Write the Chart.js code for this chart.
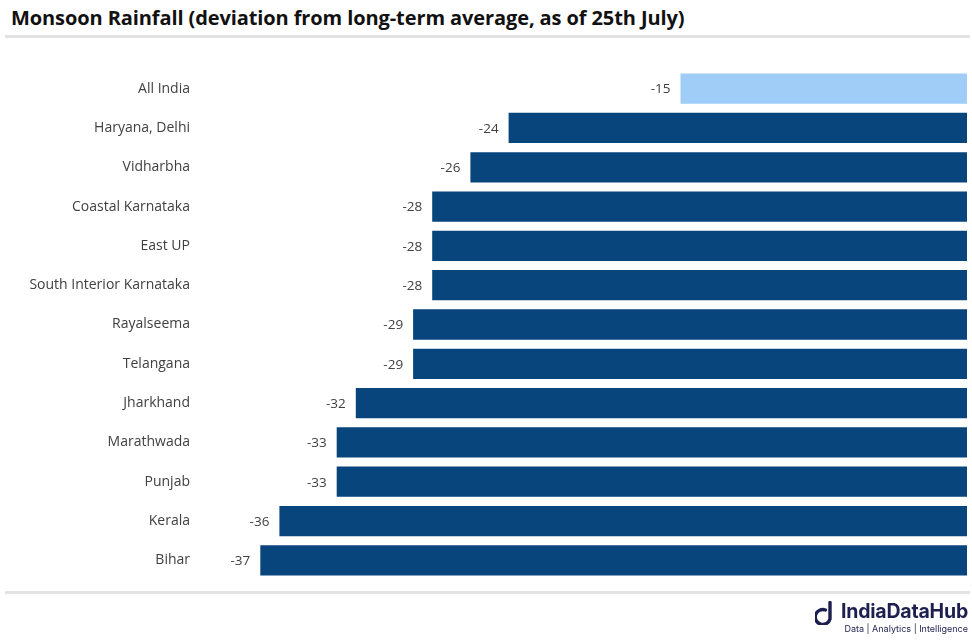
<!DOCTYPE html>
<html>
<head>
<meta charset="utf-8">
<script src="https://cdn.jsdelivr.net/npm/chart.js@4"></script>
<style>
  html, body { margin: 0; padding: 0; background: #fff; }
  body { width: 972px; height: 643px; position: relative; overflow: hidden; font-family: "Open Sans", sans-serif; }
  .title { position: absolute; left: 11px; top: 4px; font-size: 20px; font-weight: 700; color: #111; letter-spacing: -0.1px; }
  .rule { position: absolute; left: 5px; width: 965px; height: 3px; background: #e3e3e3; }
  .wrap { position: absolute; left: 0; top: 0; width: 972px; height: 643px; }
  .logo { position: absolute; right: 4px; top: 600px; text-align: right; color: #1d1f4e; }
  .logo .name { font-family: "Inter", sans-serif; font-weight: 700; font-size: 19.5px; letter-spacing: -0.2px; line-height: 22px; }
  .logo .tag { font-family: "Inter", sans-serif; font-size: 9px; margin-top: 1px; }
  .logo svg { position: absolute; left: -26px; top: 1px; }
</style>
</head>
<body>
<div class="title">Monsoon Rainfall (deviation from long-term average, as of 25th July)</div>
<div class="rule" style="top:35px"></div>
<div class="rule" style="top:591px"></div>
<div class="wrap"><canvas id="chart"></canvas></div>
<div class="logo">
  <svg width="22" height="24" viewBox="0 0 22 24"><path d="M15 1.5 L15 18 A7.5 7.5 0 1 1 10.5 9" fill="none" stroke="#1d1f4e" stroke-width="3.4" stroke-linecap="round"/></svg>
  <div class="name">IndiaDataHub</div>
  <div class="tag">Data | Analytics | Intelligence</div>
</div>
<script>
const regions = ["All India", "Haryana, Delhi", "Vidharbha", "Coastal Karnataka", "East UP",
  "South Interior Karnataka", "Rayalseema", "Telangana", "Jharkhand", "Marathwada",
  "Punjab", "Kerala", "Bihar"];
const deviation = [-15, -24, -26, -28, -28, -28, -29, -29, -32, -33, -33, -36, -37];
const barColors = deviation.map((v, i) => i === 0 ? "#9fcdf8" : "#08457c");

// draw value text just left of each bar end
const valueLabels = {
  id: "valueLabels",
  afterDatasetsDraw(chart) {
    const ctx = chart.ctx;
    const meta = chart.getDatasetMeta(0);
    ctx.save();
    ctx.font = "13.5px 'Open Sans', sans-serif";
    ctx.fillStyle = "#404040";
    ctx.textAlign = "right";
    ctx.textBaseline = "middle";
    meta.data.forEach((bar, i) => {
      ctx.fillText(deviation[i], bar.x - 10, bar.y + 1);
    });
    ctx.restore();
  }
};

const ctx = document.getElementById("chart").getContext("2d");
new Chart(ctx, {
  type: "bar",
  data: {
    labels: regions,
    datasets: [{
      data: deviation,
      backgroundColor: barColors,
      borderWidth: 0,
      barPercentage: 0.77,
      categoryPercentage: 1
    }]
  },
  options: {
    indexAxis: "y",
    responsive: true,
    maintainAspectRatio: false,
    animation: false,
    layout: { padding: { top: 69, bottom: 63, right: 5, left: 0 } },
    plugins: { legend: { display: false }, tooltip: { enabled: false } },
    scales: {
      x: { display: false, min: -40, max: 0 },
      y: {
        grid: { display: false },
        border: { display: false },
        afterFit(scale) { scale.width = 203; },
        ticks: {
          color: "#404040",
          padding: 5,
          font: { family: "'Open Sans', sans-serif", size: 14 }
        }
      }
    }
  },
  plugins: [valueLabels]
});
</script>
</body>
</html>
